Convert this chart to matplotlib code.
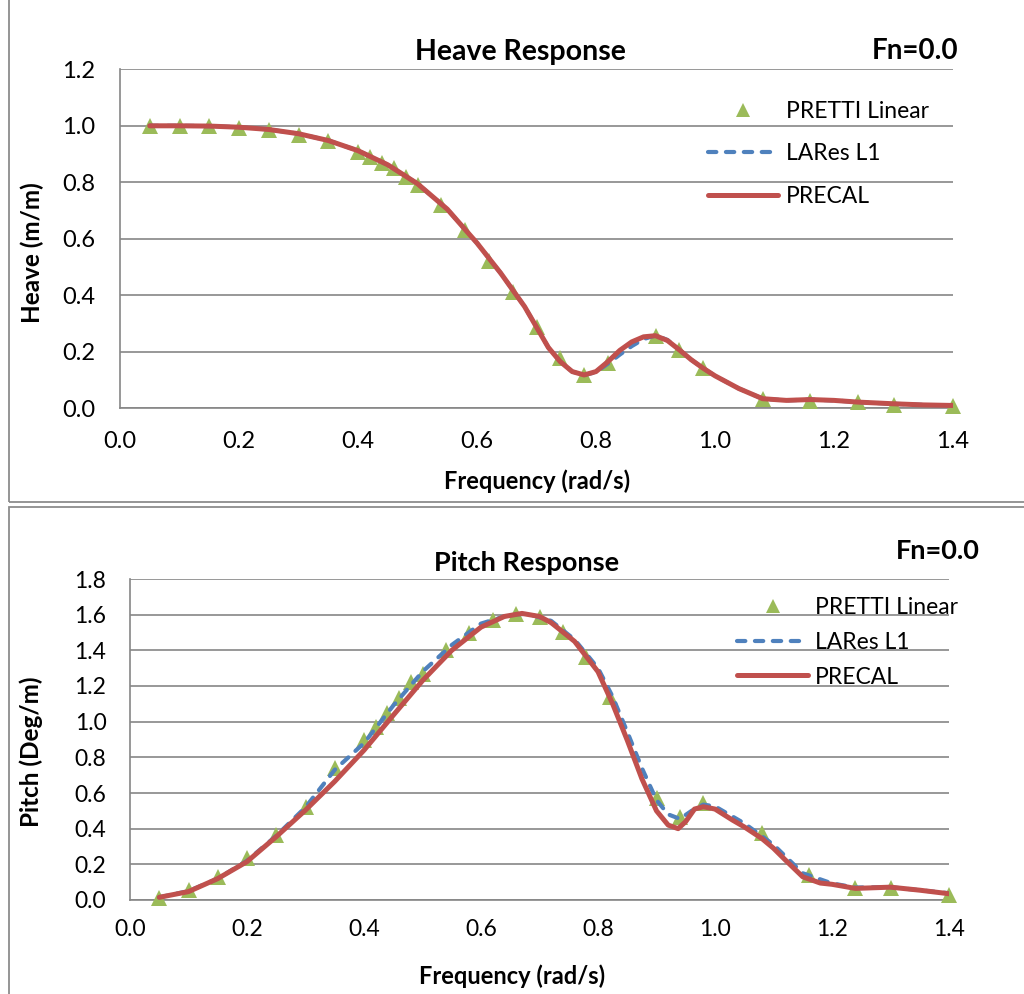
import matplotlib
matplotlib.use("Agg")
import matplotlib.pyplot as plt
from matplotlib.patches import Rectangle

plt.rcParams['font.family'] = ['Lato', 'DejaVu Sans']

# ---------------- data ----------------
# Heave response
heave_pretti_x = [0.05, 0.10, 0.15, 0.20, 0.25, 0.30, 0.35, 0.40, 0.42, 0.44, 0.46, 0.48, 0.50,
                  0.54, 0.58, 0.62, 0.66, 0.70, 0.74, 0.78, 0.82, 0.90, 0.94, 0.98, 1.08,
                  1.16, 1.24, 1.30, 1.40]
heave_pretti_y = [1.000, 1.000, 0.998, 0.993, 0.986, 0.966, 0.945, 0.909, 0.890, 0.870, 0.850,
                  0.820, 0.790, 0.720, 0.630, 0.520, 0.410, 0.288, 0.178, 0.117, 0.162, 0.256,
                  0.208, 0.142, 0.032, 0.027, 0.024, 0.013, 0.008]

heave_precal_x = [0.05, 0.10, 0.15, 0.20, 0.25, 0.30, 0.35, 0.40, 0.45, 0.50, 0.55, 0.60, 0.64,
                  0.68, 0.72, 0.74, 0.76, 0.78, 0.80, 0.82, 0.84, 0.86, 0.88, 0.90, 0.92, 0.94,
                  0.96, 0.98, 1.00, 1.04, 1.08, 1.12, 1.16, 1.20, 1.24, 1.30, 1.35, 1.40]
heave_precal_y = [1.000, 1.000, 0.999, 0.995, 0.987, 0.972, 0.948, 0.912, 0.862, 0.795, 0.705,
                  0.585, 0.478, 0.360, 0.215, 0.165, 0.130, 0.118, 0.130, 0.165, 0.205, 0.235,
                  0.253, 0.257, 0.240, 0.207, 0.172, 0.142, 0.115, 0.070, 0.034, 0.028, 0.031,
                  0.028, 0.022, 0.016, 0.012, 0.010]

heave_lares_x = heave_precal_x
heave_lares_y = [1.000, 1.000, 0.999, 0.995, 0.987, 0.972, 0.948, 0.912, 0.862, 0.795, 0.705,
                 0.585, 0.478, 0.360, 0.215, 0.165, 0.130, 0.118, 0.128, 0.158, 0.190, 0.220,
                 0.245, 0.258, 0.242, 0.207, 0.172, 0.142, 0.115, 0.070, 0.034, 0.028, 0.031,
                 0.028, 0.022, 0.016, 0.012, 0.010]

# Pitch response
pitch_pretti_x = heave_pretti_x
pitch_pretti_y = [0.010, 0.056, 0.127, 0.233, 0.364, 0.523, 0.738, 0.896, 0.971, 1.046, 1.130,
                  1.220, 1.270, 1.400, 1.500, 1.570, 1.605, 1.587, 1.503, 1.363, 1.139, 0.570,
                  0.463, 0.545, 0.373, 0.140, 0.065, 0.065, 0.028]

pitch_precal_x = [0.05, 0.10, 0.15, 0.20, 0.25, 0.30, 0.35, 0.40, 0.45, 0.50, 0.55, 0.60, 0.64,
                  0.67, 0.70, 0.72, 0.76, 0.80, 0.825, 0.85, 0.875, 0.90, 0.92, 0.937, 0.95,
                  0.965, 0.98, 1.00, 1.03, 1.05, 1.08, 1.10, 1.12, 1.15, 1.18, 1.20, 1.24,
                  1.30, 1.35, 1.40]
pitch_precal_y = [0.015, 0.047, 0.120, 0.215, 0.355, 0.504, 0.665, 0.840, 1.036, 1.230, 1.400,
                  1.530, 1.590, 1.607, 1.590, 1.555, 1.450, 1.280, 1.100, 0.896, 0.680, 0.500,
                  0.420, 0.400, 0.440, 0.510, 0.523, 0.510, 0.448, 0.410, 0.345, 0.290, 0.225,
                  0.130, 0.095, 0.088, 0.065, 0.072, 0.055, 0.035]

pitch_lares_x = [0.05, 0.10, 0.15, 0.20, 0.25, 0.30, 0.35, 0.40, 0.45, 0.50, 0.55, 0.60, 0.65,
                 0.68, 0.72, 0.76, 0.80, 0.825, 0.85, 0.875, 0.90, 0.92, 0.94, 0.96, 0.98,
                 1.00, 1.05, 1.10, 1.15, 1.20, 1.24, 1.30, 1.40]
pitch_lares_y = [0.015, 0.050, 0.120, 0.220, 0.360, 0.520, 0.730, 0.880, 1.090, 1.280, 1.430,
                 1.550, 1.600, 1.605, 1.565, 1.460, 1.300, 1.140, 0.943, 0.740, 0.560, 0.480,
                 0.455, 0.500, 0.535, 0.525, 0.430, 0.310, 0.150, 0.093, 0.070, 0.072, 0.038]

x_ticks = [0.0, 0.2, 0.4, 0.6, 0.8, 1.0, 1.2, 1.4]
heave_yticks = [0.0, 0.2, 0.4, 0.6, 0.8, 1.0, 1.2]
pitch_yticks = [0.0, 0.2, 0.4, 0.6, 0.8, 1.0, 1.2, 1.4, 1.6, 1.8]
series_labels = ['PRETTI Linear', 'LARes L1', 'PRECAL']

# ---------------- styling ----------------
W, H = 1024, 994
GREEN = '#9BBB59'
BLUE = '#4F81BD'
RED = '#C0504D'
GRID = '#868686'

fig = plt.figure(figsize=(W / 100, H / 100), dpi=100)


def fx(px):
    return px / W


def fy(py):
    return 1 - py / H


# panel frames
fig.add_artist(Rectangle((fx(9), fy(502)), 1.2, fy(0) - fy(502) + 0.2, transform=fig.transFigure,
                         fill=False, ec='#8c8c8c', lw=1.3))
fig.add_artist(Rectangle((fx(9), -0.2), 1.2, fy(507) + 0.2, transform=fig.transFigure,
                         fill=False, ec='#8c8c8c', lw=1.3))


def make_axes(l, r, t, b, yticks, ylim, tfs, xpad, ypad):
    ax = fig.add_axes([fx(l), fy(b), fx(r) - fx(l), fy(t) - fy(b)])
    ax.set_xlim(0, 1.4)
    ax.set_ylim(*ylim)
    ax.set_xticks(x_ticks)
    ax.set_xticklabels([f'{v:.1f}' for v in x_ticks])
    ax.set_yticks(yticks)
    ax.set_yticklabels([f'{v:.1f}' for v in yticks])
    ax.tick_params(axis='both', length=0, labelsize=tfs, colors='black')
    ax.tick_params(axis='x', pad=xpad)
    ax.tick_params(axis='y', pad=ypad)
    ax.grid(axis='y', color=GRID, lw=1.2)
    ax.set_axisbelow(True)
    for s in ['top', 'right']:
        ax.spines[s].set_visible(False)
    for s in ['left', 'bottom']:
        ax.spines[s].set_color(GRID)
        ax.spines[s].set_linewidth(1.2)
    ax.patch.set_alpha(0)
    return ax


def draw(ax, px_, py_, bx, by, rx, ry, ms):
    h1, = ax.plot(px_, py_, linestyle='none', marker='^', color=GREEN, ms=ms, mew=0,
                  clip_on=False, zorder=3, label=series_labels[0])
    h2, = ax.plot(bx, by, color=BLUE, lw=3.0, dashes=(2.0, 2.3), dash_capstyle='round',
                  zorder=4, label=series_labels[1])
    h3, = ax.plot(rx, ry, color=RED, lw=3.6, solid_capstyle='round', zorder=5,
                  label=series_labels[2])
    return [h1, h2, h3]


# ---- Heave ----
ax1 = make_axes(120, 953, 69.3, 408.3, heave_yticks, (0, 1.2), 17, 16, 18)
hs = draw(ax1, heave_pretti_x, heave_pretti_y, heave_lares_x, heave_lares_y,
          heave_precal_x, heave_precal_y, 12)
leg1 = ax1.legend(handles=hs, loc='upper left',
                  bbox_to_anchor=((708 - 120) / (953 - 120), 1 - (101 - 69.3) / (408.3 - 69.3)),
                  frameon=False, fontsize=16.5, handlelength=3.05, handletextpad=0.35,
                  labelspacing=0.93, borderpad=0, borderaxespad=0, markerscale=0.85)

fig.text(fx(520), fy(52), 'Heave Response', fontsize=20.5, fontweight='bold',
         ha='center', va='center')
fig.text(fx(958), fy(51), 'Fn=0.0', fontsize=20, fontweight='bold', ha='right', va='center')
fig.text(fx(537), fy(481), 'Frequency (rad/s)', fontsize=17, fontweight='bold',
         ha='center', va='center')
fig.text(fx(32), fy(253), 'Heave (m/m)', fontsize=17.5, fontweight='bold', rotation=90,
         ha='center', va='center')

# ---- Pitch ----
ax2 = make_axes(130, 949, 579, 900, pitch_yticks, (0, 1.8), 16.5, 14, 17)
hs2 = draw(ax2, pitch_pretti_x, pitch_pretti_y, pitch_lares_x, pitch_lares_y,
           pitch_precal_x, pitch_precal_y, 12)
leg2 = ax2.legend(handles=hs2, loc='upper left',
                  bbox_to_anchor=((737 - 130) / (949 - 130), 1 - (597 - 579) / (900 - 579)),
                  frameon=False, fontsize=16.5, handlelength=3.1, handletextpad=0.3,
                  labelspacing=0.6, borderpad=0, borderaxespad=0, markerscale=0.85)

fig.text(fx(527), fy(563), 'Pitch Response', fontsize=19.5, fontweight='bold',
         ha='center', va='center')
fig.text(fx(980), fy(551), 'Fn=0.0', fontsize=19.5, fontweight='bold', ha='right', va='center')
fig.text(fx(512), fy(976), 'Frequency (rad/s)', fontsize=17, fontweight='bold',
         ha='center', va='center')
fig.text(fx(31), fy(752), 'Pitch (Deg/m)', fontsize=17.5, fontweight='bold', rotation=90,
         ha='center', va='center')

fig.savefig('out.png', dpi=100)
